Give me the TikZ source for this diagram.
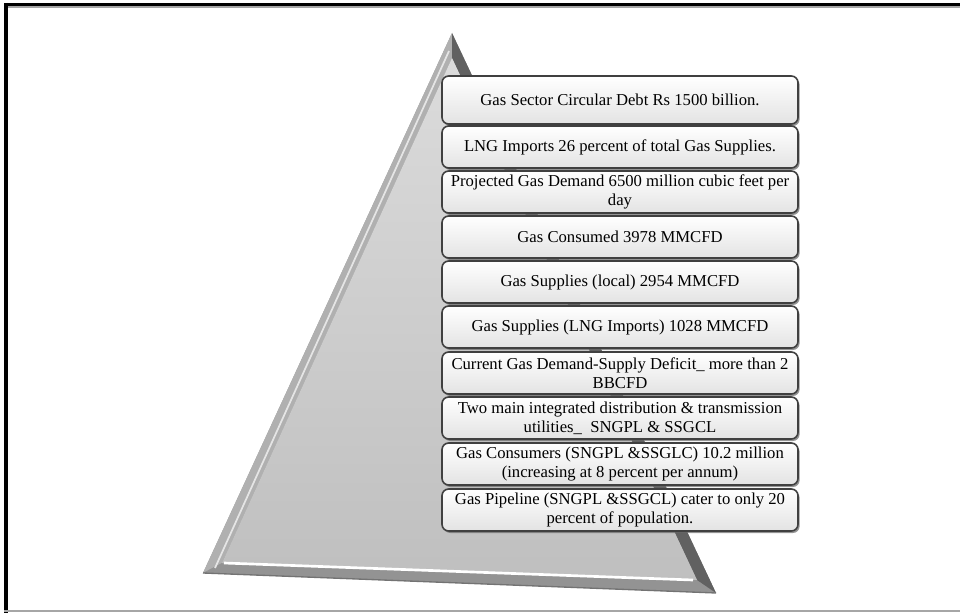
\documentclass[tikz,border=0pt]{standalone}
\usepackage{fontspec}
\setmainfont{Liberation Serif}
\usetikzlibrary{shadows,calc}
\begin{document}
\begin{tikzpicture}[x=0.75pt,y=-0.75pt,
  infobox/.style={draw=black!75, line width=1.2pt, rounded corners=5pt,
    top color=white, bottom color=gray!22, minimum width=267pt, minimum height=31.5pt,
    align=center, inner sep=1pt, font=\fontsize{12.5}{14.25}\selectfont,
    drop shadow={shadow xshift=1.2pt, shadow yshift=-1.5pt, fill=black!60, opacity=0.7}},
  frameblack/.style={line width=2.6pt, draw=black},
]
\useasboundingbox (0,0) rectangle (960,613);
% frame
\draw[gray!70, line width=0.9pt] (6,7) -- (960,7);
\draw[frameblack] (4,4.5) -- (960,4.5);
\draw[frameblack, line width=3pt] (6,3) -- (6,613);
\draw[gray!70, line width=1.3pt] (4,611) -- (960,611);
% pyramid
\coordinate (A) at (452,33);
\coordinate (B) at (203,573);
\coordinate (C) at (716,593);
\coordinate (Ai) at (452,58);
\coordinate (Bi) at (222,563);
\coordinate (Ci) at (697,580);
\fill[gray!80] (A) -- (B) -- (C) -- cycle;
\fill[gray!62] (A) -- (B) -- (Bi) -- (Ai) -- cycle;
\fill[gray!85] (B) -- (C) -- (Ci) -- (Bi) -- cycle;
\fill[black!62] (A) -- (C) -- (Ci) -- (Ai) -- cycle;
\shade[top color=gray!28, bottom color=gray!50] (Ai) -- (Bi) -- (Ci) -- cycle;
\draw[white, line width=2pt] ($(Bi)+(2,0)$) -- ($(Ci)+(-4,0)$);
\draw[white!80!gray, line width=1.3pt] ($(Ai)+(-3,-7)$) -- ($(Bi)+(-7,5)$);
\draw[black!55, line width=1pt] (B) -- (C);
% boxes
\node[infobox, minimum height=36pt] (b1) at (620,100) {Gas Sector Circular Debt Rs 1500 billion.};
\node[infobox] (b2) at (620,147) {LNG Imports 26 percent of total Gas Supplies.};
\node[infobox] (b3) at (620,192) {Projected Gas Demand 6500 million cubic feet per\\day};
\node[infobox] (b4) at (620,237) {Gas Consumed 3978 MMCFD};
\node[infobox] (b5) at (620,282) {Gas Supplies (local) 2954 MMCFD};
\node[infobox] (b6) at (620,327) {Gas Supplies (LNG Imports) 1028 MMCFD};
\node[infobox] (b7) at (620,373) {Current Gas Demand-Supply Deficit\_ more than 2\\BBCFD};
\node[infobox] (b8) at (620,418) {Two main integrated distribution \& transmission\\utilities\_ \ SNGPL \& SSGCL};
\node[infobox] (b9) at (620,464) {Gas Consumers (SNGPL \&SSGLC) 10.2 million\\(increasing at 8 percent per annum)};
\node[infobox] (b10) at (620,510) {Gas Pipeline (SNGPL \&SSGCL) cater to only 20\\percent of population.};
\end{tikzpicture}
\end{document}
